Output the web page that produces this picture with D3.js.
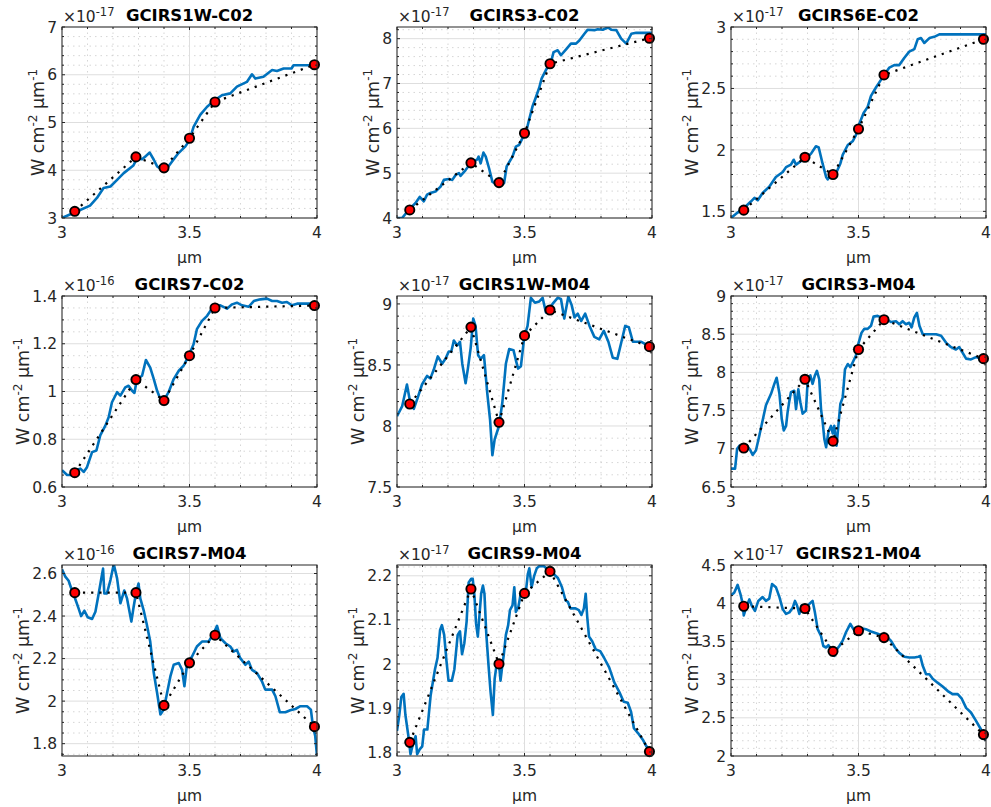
<!DOCTYPE html>
<html>
<head>
<meta charset="utf-8">
<script src="https://cdn.jsdelivr.net/npm/d3@7"></script>
<style>
  body { margin: 0; background: #fff; }
  svg text { font-family: "DejaVu Sans", "Liberation Sans", Arial, sans-serif; fill: #262626; }
</style>
</head>
<body>
<svg id="chart" width="991" height="807"></svg>
<script>
"use strict";

// band centres where the red photometry points sit (µm)
const bandX = [3.05, 3.29, 3.40, 3.50, 3.60, 3.99];
const xTicks = [3, 3.5, 4];

const titles = ["GCIRS1W-C02", "GCIRS3-C02", "GCIRS6E-C02",
                "GCIRS7-C02", "GCIRS1W-M04", "GCIRS3-M04",
                "GCIRS7-M04", "GCIRS9-M04", "GCIRS21-M04"];
const exponents = ["-17", "-17", "-17", "-16", "-17", "-17", "-16", "-17", "-17"];

// y limits and ticks (in units of the exponent above)
const yLims = [[3, 7], [4, 8.26], [1.446, 3], [0.6, 1.4], [7.5, 9.065],
               [6.5, 9], [1.742, 2.64], [1.791, 2.2245], [2, 4.5]];
const yTicks = [[3, 4, 5, 6, 7], [4, 5, 6, 7, 8], [1.5, 2, 2.5, 3], [0.6, 0.8, 1, 1.2, 1.4],
                [7.5, 8, 8.5, 9], [6.5, 7, 7.5, 8, 8.5, 9], [1.8, 2, 2.2, 2.4, 2.6],
                [1.8, 1.9, 2, 2.1, 2.2], [2, 2.5, 3, 3.5, 4, 4.5]];
const yMinorStep = [0.2, 0.2, 0.1, 0.05, 0.1, 0.1, 0.05, 0.02, 0.1];

// red points (band fluxes)
const bands = [
  [3.14, 4.28, 4.05, 4.67, 5.43, 6.21],
  [4.18, 5.23, 4.79, 5.89, 7.44, 8.01],
  [1.51, 1.94, 1.80, 2.17, 2.61, 2.90],
  [0.66, 1.05, 0.962, 1.15, 1.35, 1.36],
  [8.18, 8.81, 8.03, 8.74, 8.95, 8.65],
  [7.01, 7.91, 7.10, 8.30, 8.69, 8.18],
  [2.51, 2.51, 1.98, 2.18, 2.31, 1.88],
  [1.822, 2.17, 2.00, 2.16, 2.21, 1.801],
  [3.96, 3.93, 3.37, 3.64, 3.55, 2.28]
];

// spectra [wavelength µm, flux]
const spec1 = [[3.00,3.00],[3.06,3.14],[3.11,3.26],[3.137,3.42],[3.163,3.63],[3.19,3.66],[3.216,3.80],
  [3.242,3.94],[3.275,4.08],[3.28,4.10],[3.294,4.25],[3.314,4.23],[3.327,4.29],[3.344,4.37],[3.36,4.22],
  [3.373,4.08],[3.392,4.01],[3.412,4.04],[3.431,4.18],[3.457,4.36],[3.484,4.50],[3.50,4.63],[3.516,4.91],
  [3.542,5.16],[3.569,5.33],[3.60,5.47],[3.627,5.57],[3.66,5.61],[3.686,5.75],[3.725,5.85],[3.745,6.01],
  [3.758,5.92],[3.79,5.96],[3.824,6.10],[3.843,6.08],[3.869,6.13],[3.90,6.13],[3.908,6.20],[3.96,6.20],[4.0,6.20]];

const spec2 = [[3.0,4.0],[3.02,4.0],[3.052,4.22],[3.072,4.33],[3.089,4.47],[3.105,4.37],[3.118,4.52],
  [3.131,4.56],[3.151,4.59],[3.171,4.70],[3.184,4.85],[3.203,4.87],[3.217,4.85],[3.23,4.96],[3.243,5.0],
  [3.249,4.94],[3.269,5.07],[3.289,5.22],[3.315,5.31],[3.32,5.37],[3.328,5.22],[3.339,5.46],[3.348,5.37],
  [3.361,5.11],[3.374,4.81],[3.391,4.74],[3.407,4.74],[3.42,4.78],[3.43,5.15],[3.453,5.37],[3.466,5.59],
  [3.479,5.63],[3.492,5.78],[3.505,5.89],[3.518,6.19],[3.531,6.48],[3.545,6.70],[3.558,6.91],[3.567,7.11],
  [3.584,7.30],[3.604,7.48],[3.614,7.70],[3.63,7.74],[3.643,7.63],[3.663,7.76],[3.682,7.89],[3.702,7.89],
  [3.715,7.96],[3.735,8.11],[3.748,8.20],[3.774,8.19],[3.787,8.21],[3.807,8.20],[3.827,8.25],[3.84,8.20],
  [3.86,8.19],[3.879,8.0],[3.899,7.89],[3.919,8.11],[3.938,8.13],[4.0,8.13]];

const spec3 = [[3.0,1.446],[3.026,1.49],[3.052,1.53],[3.078,1.58],[3.092,1.61],[3.105,1.59],[3.124,1.65],
  [3.15,1.70],[3.176,1.78],[3.203,1.82],[3.216,1.86],[3.235,1.88],[3.246,1.92],[3.255,1.88],[3.275,1.91],
  [3.294,1.93],[3.314,1.97],[3.333,2.03],[3.344,2.02],[3.359,1.89],[3.373,1.78],[3.379,1.76],[3.392,1.80],
  [3.412,1.81],[3.429,1.89],[3.438,1.96],[3.458,2.04],[3.477,2.07],[3.49,2.12],[3.503,2.21],[3.52,2.30],
  [3.536,2.35],[3.549,2.44],[3.569,2.51],[3.588,2.57],[3.601,2.61],[3.621,2.67],[3.64,2.69],[3.66,2.69],
  [3.68,2.75],[3.699,2.80],[3.719,2.82],[3.732,2.90],[3.745,2.91],[3.758,2.87],[3.778,2.91],[3.797,2.92],
  [3.817,2.94],[4.0,2.94]];

const spec4 = [[3.0,0.670],[3.02,0.65],[3.039,0.65],[3.052,0.67],[3.072,0.677],[3.085,0.663],[3.098,0.683],
  [3.118,0.746],[3.135,0.753],[3.15,0.816],[3.17,0.857],[3.183,0.892],[3.196,0.955],[3.216,0.997],
  [3.229,0.983],[3.248,1.017],[3.261,1.024],[3.275,1.003],[3.284,0.994],[3.294,1.052],[3.314,1.066],
  [3.329,1.132],[3.346,1.10],[3.36,1.052],[3.373,1.003],[3.383,0.976],[3.399,0.962],[3.418,0.997],
  [3.438,1.052],[3.458,1.087],[3.477,1.108],[3.497,1.15],[3.516,1.198],[3.529,1.261],[3.549,1.296],
  [3.569,1.317],[3.595,1.358],[3.621,1.361],[3.647,1.347],[3.667,1.365],[3.686,1.372],[3.706,1.361],
  [3.732,1.355],[3.752,1.379],[3.778,1.386],[3.804,1.389],[3.824,1.379],[3.843,1.379],[3.863,1.372],
  [3.882,1.375],[3.902,1.361],[3.922,1.368],[4.0,1.368]];

const spec5 = [[3.0,8.08],[3.02,8.16],[3.039,8.34],[3.052,8.19],[3.066,8.14],[3.081,8.23],[3.098,8.34],
  [3.118,8.41],[3.131,8.39],[3.144,8.46],[3.16,8.57],[3.177,8.51],[3.19,8.55],[3.203,8.61],[3.213,8.61],
  [3.223,8.70],[3.236,8.66],[3.247,8.69],[3.256,8.51],[3.269,8.35],[3.278,8.47],[3.289,8.64],[3.299,8.88],
  [3.308,8.82],[3.318,8.58],[3.328,8.55],[3.341,8.58],[3.354,8.27],[3.365,8.05],[3.374,7.76],[3.383,7.89],
  [3.40,8.0],[3.413,8.19],[3.427,8.51],[3.44,8.63],[3.457,8.62],[3.466,8.54],[3.475,8.47],[3.486,8.49],
  [3.499,8.73],[3.512,8.82],[3.525,9.05],[3.541,9.01],[3.558,9.02],[3.571,9.05],[3.584,8.93],[3.597,8.96],
  [3.61,9.0],[3.63,9.05],[3.643,9.04],[3.656,8.88],[3.672,9.06],[3.685,8.99],[3.696,8.89],[3.709,8.92],
  [3.722,8.86],[3.738,8.92],[3.755,8.82],[3.774,8.73],[3.793,8.71],[3.811,8.78],[3.829,8.69],[3.846,8.56],
  [3.864,8.55],[3.879,8.68],[3.895,8.82],[3.909,8.81],[3.925,8.69],[3.958,8.69],[4.0,8.64]];

const spec6 = [[3.0,6.74],[3.016,6.74],[3.024,7.0],[3.033,7.04],[3.046,7.0],[3.063,7.04],[3.076,6.98],
  [3.085,6.92],[3.098,6.98],[3.111,7.17],[3.124,7.37],[3.137,7.57],[3.157,7.72],[3.17,7.85],[3.179,7.93],
  [3.19,7.72],[3.199,7.39],[3.207,7.24],[3.216,7.30],[3.222,7.48],[3.229,7.63],[3.235,7.74],[3.248,7.76],
  [3.255,7.52],[3.264,7.78],[3.272,7.61],[3.281,7.46],[3.294,7.50],[3.301,7.91],[3.311,7.96],[3.32,7.85],
  [3.329,7.96],[3.337,8.02],[3.346,7.91],[3.353,7.52],[3.359,7.37],[3.366,7.13],[3.373,7.02],[3.382,7.22],
  [3.392,7.30],[3.399,7.20],[3.405,7.30],[3.414,7.04],[3.421,7.30],[3.429,7.59],[3.438,7.67],[3.447,8.04],
  [3.458,8.11],[3.468,8.07],[3.477,8.13],[3.49,8.22],[3.499,8.37],[3.512,8.52],[3.523,8.57],[3.536,8.57],
  [3.549,8.61],[3.559,8.73],[3.575,8.74],[3.588,8.72],[3.608,8.70],[3.627,8.66],[3.647,8.67],[3.66,8.63],
  [3.673,8.67],[3.686,8.63],[3.699,8.65],[3.708,8.59],[3.719,8.72],[3.729,8.78],[3.739,8.61],[3.752,8.50],
  [3.771,8.50],[3.804,8.50],[3.824,8.48],[3.843,8.39],[3.863,8.33],[3.882,8.30],[3.895,8.33],[3.908,8.26],
  [3.922,8.18],[3.941,8.17],[3.961,8.20],[3.98,8.18],[4.0,8.17]];

const spec7 = [[3.0,2.62],[3.013,2.585],[3.026,2.566],[3.039,2.52],[3.052,2.48],[3.065,2.436],[3.075,2.40],
  [3.088,2.425],[3.101,2.394],[3.118,2.386],[3.131,2.42],[3.144,2.506],[3.153,2.569],[3.161,2.623],
  [3.166,2.506],[3.176,2.506],[3.19,2.569],[3.203,2.644],[3.216,2.577],[3.229,2.46],[3.244,2.52],
  [3.255,2.483],[3.272,2.374],[3.281,2.444],[3.29,2.506],[3.30,2.553],[3.307,2.483],[3.32,2.428],
  [3.333,2.358],[3.346,2.28],[3.36,2.132],[3.373,2.038],[3.386,1.937],[3.399,1.96],[3.412,2.038],
  [3.425,2.116],[3.438,2.171],[3.458,2.179],[3.471,2.147],[3.48,2.07],[3.49,2.171],[3.51,2.21],
  [3.529,2.257],[3.549,2.28],[3.575,2.28],[3.595,2.32],[3.608,2.354],[3.621,2.296],[3.641,2.272],
  [3.66,2.257],[3.673,2.233],[3.686,2.241],[3.699,2.202],[3.719,2.171],[3.732,2.186],[3.745,2.147],
  [3.765,2.132],[3.784,2.093],[3.797,2.054],[3.824,2.054],[3.837,2.023],[3.854,1.948],[3.876,1.948],
  [3.895,1.957],[3.915,1.963],[3.935,1.976],[3.961,1.976],[3.976,1.96],[3.984,1.882],[3.993,1.836],[4.0,1.742]];

const spec8 = [[3.0,1.848],[3.009,1.884],[3.017,1.925],[3.026,1.932],[3.033,1.884],[3.044,1.839],
  [3.053,1.795],[3.062,1.817],[3.073,1.836],[3.079,1.795],[3.089,1.806],[3.099,1.813],[3.106,1.851],
  [3.119,1.851],[3.132,1.929],[3.149,1.988],[3.159,2.014],[3.169,2.077],[3.176,2.088],[3.185,2.066],
  [3.194,2.007],[3.202,1.962],[3.215,1.962],[3.225,1.988],[3.238,2.066],[3.247,2.074],[3.255,2.022],
  [3.264,2.047],[3.273,2.096],[3.281,2.185],[3.291,2.193],[3.297,2.193],[3.304,2.152],[3.31,2.092],
  [3.317,2.062],[3.324,2.115],[3.33,2.159],[3.337,2.178],[3.343,2.159],[3.35,2.07],[3.359,1.996],
  [3.367,1.936],[3.376,1.884],[3.383,1.966],[3.39,1.996],[3.399,2.007],[3.406,1.962],[3.412,1.992],
  [3.419,2.022],[3.427,2.066],[3.436,2.088],[3.443,2.122],[3.453,2.133],[3.46,2.174],[3.466,2.118],
  [3.476,2.129],[3.485,2.159],[3.495,2.163],[3.506,2.167],[3.513,2.204],[3.519,2.217],[3.528,2.174],
  [3.538,2.2],[3.548,2.217],[3.559,2.222],[3.575,2.222],[3.594,2.213],[3.614,2.204],[3.631,2.195],
  [3.647,2.174],[3.661,2.144],[3.67,2.141],[3.68,2.126],[3.7,2.126],[3.713,2.122],[3.723,2.111],
  [3.733,2.126],[3.74,2.159],[3.746,2.107],[3.753,2.062],[3.766,2.051],[3.779,2.033],[3.797,2.029],
  [3.812,2.014],[3.832,1.992],[3.852,1.958],[3.872,1.936],[3.889,1.914],[3.905,1.912],[3.918,1.891],
  [3.929,1.854],[3.945,1.843],[3.964,1.828],[3.978,1.813],[4.0,1.802]];

const spec9 = [[3.0,4.10],[3.013,4.14],[3.026,4.24],[3.037,4.12],[3.046,3.99],[3.05,3.84],[3.059,3.94],
  [3.072,4.05],[3.081,3.97],[3.094,3.90],[3.107,4.03],[3.124,4.08],[3.137,4.03],[3.15,4.06],[3.161,4.25],
  [3.176,4.21],[3.19,4.08],[3.203,3.92],[3.216,3.86],[3.229,3.88],[3.242,3.94],[3.251,4.03],[3.259,3.97],
  [3.268,3.86],[3.277,3.97],[3.29,3.94],[3.307,3.99],[3.32,4.03],[3.329,3.88],[3.34,3.66],[3.353,3.57],
  [3.362,3.44],[3.373,3.42],[3.382,3.45],[3.392,3.40],[3.405,3.31],[3.416,3.40],[3.425,3.44],[3.438,3.51],
  [3.451,3.62],[3.468,3.73],[3.48,3.66],[3.49,3.63],[3.503,3.67],[3.516,3.67],[3.529,3.66],[3.549,3.63],
  [3.575,3.60],[3.595,3.57],[3.614,3.55],[3.627,3.51],[3.643,3.42],[3.66,3.35],[3.68,3.30],[3.699,3.29],
  [3.719,3.29],[3.735,3.30],[3.742,3.31],[3.752,3.18],[3.765,3.07],[3.778,3.07],[3.791,3.01],[3.81,2.96],
  [3.83,2.91],[3.85,2.85],[3.869,2.81],[3.889,2.81],[3.905,2.75],[3.922,2.63],[3.941,2.57],[3.961,2.46],
  [3.98,2.35],[3.993,2.26],[4.0,2.20]];

const spectra = [spec1, spec2, spec3, spec4, spec5, spec6, spec7, spec8, spec9];

// layout
const colLeft = [62, 397, 731];
const rowTop = [27, 296, 565];
const plotW = 255, plotH = 191;

const svg = d3.select("#chart");

function drawPanel(i) {
  let left = colLeft[i % 3], top = rowTop[Math.floor(i / 3)];
  let x = d3.scaleLinear().domain([3, 4]).range([0, plotW]);
  let y = d3.scaleLinear().domain(yLims[i]).range([plotH, 0]);
  let g = svg.append("g").attr("transform", `translate(${left},${top})`);

  g.append("clipPath").attr("id", "clip" + i)
    .append("rect").attr("width", plotW).attr("height", plotH);

  // minor grid
  let xMinor = d3.range(3.1, 4, 0.1).filter(v => Math.abs(v - 3.5) > 0.01);
  let yStep = yMinorStep[i];
  let yMinor = d3.range(Math.ceil(yLims[i][0] / yStep) * yStep, yLims[i][1], yStep)
    .filter(v => !yTicks[i].some(t => Math.abs(t - v) < yStep / 4));

  g.selectAll(".xminor").data(xMinor).enter().append("line")
    .attr("x1", d => x(d)).attr("x2", d => x(d)).attr("y1", 0).attr("y2", plotH)
    .style("stroke", "#c4c4c4").style("stroke-width", 0.7).style("stroke-dasharray", "1.5,4");
  g.selectAll(".yminor").data(yMinor).enter().append("line")
    .attr("y1", d => y(d)).attr("y2", d => y(d)).attr("x1", 0).attr("x2", plotW)
    .style("stroke", "#c4c4c4").style("stroke-width", 0.7).style("stroke-dasharray", "1.5,4");

  // major grid
  g.selectAll(".xgrid").data(xTicks).enter().append("line")
    .attr("x1", d => x(d)).attr("x2", d => x(d)).attr("y1", 0).attr("y2", plotH)
    .style("stroke", "#dedede").style("stroke-width", 1);
  g.selectAll(".ygrid").data(yTicks[i]).enter().append("line")
    .attr("y1", d => y(d)).attr("y2", d => y(d)).attr("x1", 0).attr("x2", plotW)
    .style("stroke", "#dedede").style("stroke-width", 1);

  // spectrum
  g.append("path").datum(spectra[i])
    .attr("clip-path", `url(#clip${i})`)
    .attr("d", d3.line().x(d => x(d[0])).y(d => y(d[1])))
    .style("fill", "none").style("stroke", "#0072BD").style("stroke-width", 2.6)
    .style("stroke-linejoin", "round");

  // straight dotted line through the band points
  let pts = bandX.map((b, k) => [b, bands[i][k]]);
  g.append("path").datum(pts)
    .attr("d", d3.line().x(d => x(d[0])).y(d => y(d[1])))
    .style("fill", "none").style("stroke", "#000").style("stroke-width", 2.2)
    .style("stroke-dasharray", "2.2,6");

  g.selectAll(".band").data(pts).enter().append("circle")
    .attr("cx", d => x(d[0])).attr("cy", d => y(d[1])).attr("r", 4.6)
    .style("fill", "#ff0000").style("stroke", "#000").style("stroke-width", 1.9);

  // box + ticks
  g.append("rect").attr("width", plotW).attr("height", plotH)
    .style("fill", "none").style("stroke", "#262626").style("stroke-width", 1);

  let tick = (x1, y1, x2, y2) => g.append("line")
    .attr("x1", x1).attr("y1", y1).attr("x2", x2).attr("y2", y2)
    .style("stroke", "#262626").style("stroke-width", 1);
  xTicks.forEach(t => { tick(x(t), plotH, x(t), plotH - 3); tick(x(t), 0, x(t), 3); });
  xMinor.forEach(t => { tick(x(t), plotH, x(t), plotH - 2); tick(x(t), 0, x(t), 2); });
  yTicks[i].forEach(t => { tick(0, y(t), 3, y(t)); tick(plotW, y(t), plotW - 3, y(t)); });
  yMinor.forEach(t => { tick(0, y(t), 2, y(t)); tick(plotW, y(t), plotW - 2, y(t)); });

  // tick labels
  g.selectAll(".xl").data(xTicks).enter().append("text")
    .attr("x", d => x(d)).attr("y", plotH + 20)
    .attr("text-anchor", "middle").style("font-size", "15.5px")
    .text(d => d);
  let yl = g.selectAll(".yl").data(yTicks[i]).enter().append("text")
    .attr("x", -5).attr("y", d => y(d) + 5.6)
    .attr("text-anchor", "end").style("font-size", "15.5px")
    .text(d => d);
  let maxW = d3.max(yl.nodes(), n => n.getComputedTextLength());

  // labels
  g.append("text").attr("x", plotW / 2).attr("y", plotH + 45)
    .attr("text-anchor", "middle").style("font-size", "15.5px").text("µm");

  let ylab = g.append("text")
    .attr("transform", `translate(${-maxW - 8},${plotH / 2}) rotate(-90)`)
    .attr("text-anchor", "middle").style("font-size", "17.5px");
  ylab.append("tspan").text("W cm");
  ylab.append("tspan").attr("dy", -7.5).style("font-size", "12px").text("-2");
  ylab.append("tspan").attr("dy", 7.5).text(" µm");
  ylab.append("tspan").attr("dy", -7.5).style("font-size", "12px").text("-1");

  let ex = g.append("text").attr("x", 1).attr("y", -5.5).style("font-size", "15.5px");
  ex.append("tspan").text("×10");
  ex.append("tspan").attr("dy", -6).style("font-size", "11.5px").text(exponents[i]);

  g.append("text").attr("x", plotW / 2).attr("y", -6)
    .attr("text-anchor", "middle").style("font-size", "16.5px").style("font-weight", "bold")
    .style("fill", "#000").text(titles[i]);
}

d3.range(9).forEach(drawPanel);
</script>
</body>
</html>
